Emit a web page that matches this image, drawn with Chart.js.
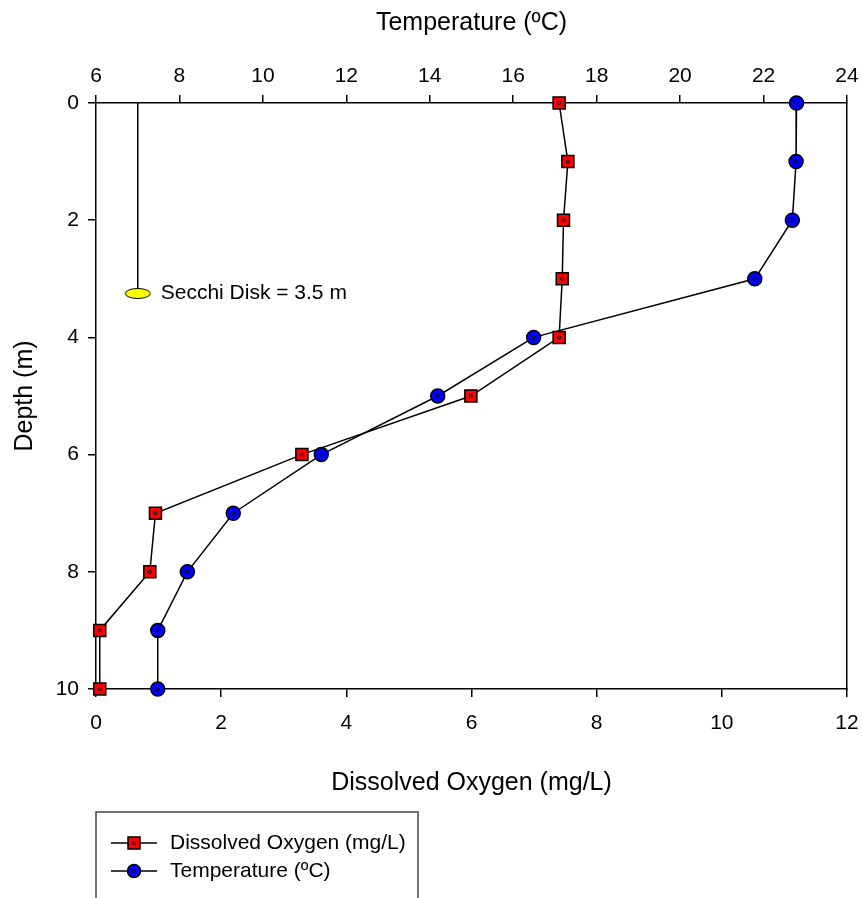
<!DOCTYPE html>
<html>
<head>
<meta charset="utf-8">
<script src="https://cdn.jsdelivr.net/npm/chart.js@4.4.1/dist/chart.umd.min.js"></script>
<style>
  html, body { margin: 0; padding: 0; background: #fff; }
  #wrap { width: 862px; height: 898px; position: relative; }
</style>
</head>
<body>
<div id="wrap"><canvas id="grafico"></canvas></div>
<script>
// datos del perfil
const depths = [0, 1, 2, 3, 4, 5, 6, 7, 8, 9, 10];
const oxygen = [7.40, 7.54, 7.47, 7.45, 7.40, 5.99, 3.29, 0.95, 0.86, 0.06, 0.06];
const temperature = [22.79, 22.78, 22.69, 21.79, 16.49, 14.19, 11.40, 9.29, 8.19, 7.48, 7.48];

// disco de Secchi (en la escala de temperatura)
const secchiTemp = [7, 7];
const secchiDepth = [0, 3.25];
const secchiLabel = 'Secchi Disk = 3.5 m';

// etiquetas de los ejes
const oxygenTicks = [0, 2, 4, 6, 8, 10, 12];
const tempTicks = [6, 8, 10, 12, 14, 16, 18, 20, 22, 24];
const depthTicks = [0, 2, 4, 6, 8, 10];

const FONT = "'Liberation Sans', Arial, sans-serif";

// elipse amarilla del disco
const disk = document.createElement('canvas');
disk.width = 28; disk.height = 13;
(function() {
  const c = disk.getContext('2d');
  c.fillStyle = '#ffff00';
  c.strokeStyle = '#000';
  c.lineWidth = 1;
  c.beginPath();
  c.ellipse(14, 6.5, 12.5, 5, 0, 0, Math.PI * 2);
  c.fill();
  c.stroke();
})();

const toPoints = (xs, ys) => xs.map((v, i) => ({ x: v, y: ys[i] }));
const fixTicks = arr => s => { s.ticks = arr.map(v => ({ value: v })); };

// punto negro en el centro de cada marcador
const centerDots = {
  id: 'centerDots',
  afterDatasetsDraw(chart) {
    const ctx = chart.ctx;
    ctx.save();
    ctx.strokeStyle = '#000';
    ctx.lineWidth = 1;
    [0, 1].forEach(i => {
      chart.getDatasetMeta(i).data.forEach(p => {
        ctx.beginPath();
        ctx.arc(p.x, p.y, 1.6, 0, Math.PI * 2);
        ctx.stroke();
      });
    });
    // texto del disco
    const pts = chart.getDatasetMeta(2).data;
    const last = pts[pts.length - 1];
    ctx.fillStyle = '#000';
    ctx.font = '21px ' + FONT;
    ctx.textBaseline = 'middle';
    ctx.fillText(secchiLabel, last.x + 23, last.y);
    ctx.restore();
  }
};

// leyenda con recuadro
const legendBox = {
  id: 'legendBox',
  afterDraw(chart) {
    const ctx = chart.ctx;
    ctx.save();
    ctx.strokeStyle = '#444';
    ctx.lineWidth = 1.5;
    ctx.beginPath();
    ctx.moveTo(96, 898); ctx.lineTo(96, 812); ctx.lineTo(418, 812); ctx.lineTo(418, 898);
    ctx.stroke();
    const rows = [843, 871];
    [0, 1].forEach((i, k) => {
      const ds = chart.data.datasets[i];
      const y = rows[k];
      ctx.strokeStyle = '#000';
      ctx.lineWidth = 1.5;
      ctx.beginPath(); ctx.moveTo(111, y); ctx.lineTo(157, y); ctx.stroke();
      ctx.fillStyle = ds.pointBackgroundColor;
      ctx.beginPath();
      if (ds.pointStyle === 'rect') ctx.rect(128, y - 6, 12, 12);
      else ctx.arc(134, y, 6.5, 0, Math.PI * 2);
      ctx.fill(); ctx.stroke();
      ctx.lineWidth = 1;
      ctx.beginPath(); ctx.arc(134, y, 1.6, 0, Math.PI * 2); ctx.stroke();
      ctx.fillStyle = '#000';
      ctx.font = '21px ' + FONT;
      ctx.textBaseline = 'middle';
      ctx.fillText(ds.label, 170, y);
    });
    ctx.restore();
  }
};

const axisCommon = {
  border: { display: true, color: '#000', width: 1.5 },
  grid: { drawOnChartArea: false, drawTicks: true, tickLength: 8, color: '#000', lineWidth: 1.5 },
};
const noSidePad = s => { s.paddingLeft = 0; s.paddingRight = 0; };

new Chart(document.getElementById('grafico'), {
  type: 'scatter',
  data: {
    datasets: [{
      label: 'Dissolved Oxygen (mg/L)',
      data: toPoints(oxygen, depths),
      xAxisID: 'x', yAxisID: 'y',
      showLine: true,
      borderColor: '#000', borderWidth: 1.5,
      pointStyle: 'rect', pointRadius: 8.5, pointHoverRadius: 8.5,
      pointBackgroundColor: '#ff0000', pointBorderColor: '#000', pointBorderWidth: 1.5,
      clip: false
    }, {
      label: 'Temperature (ºC)',
      data: toPoints(temperature, depths),
      xAxisID: 'x2', yAxisID: 'y',
      showLine: true,
      borderColor: '#000', borderWidth: 1.5,
      pointStyle: 'circle', pointRadius: 7, pointHoverRadius: 7,
      pointBackgroundColor: '#0000ff', pointBorderColor: '#000', pointBorderWidth: 1.5,
      clip: false
    }, {
      label: 'Secchi',
      data: toPoints(secchiTemp, secchiDepth),
      xAxisID: 'x2', yAxisID: 'y',
      showLine: true,
      borderColor: '#000', borderWidth: 1,
      pointStyle: ['circle', disk], pointRadius: [0, 5],
      clip: false
    }]
  },
  options: {
    responsive: true,
    maintainAspectRatio: false,
    animation: false,
    layout: { padding: 0 },
    plugins: { legend: { display: false }, tooltip: { enabled: false } },
    scales: {
      x: {
        ...axisCommon,
        position: 'bottom', min: 0, max: 12,
        afterBuildTicks: fixTicks(oxygenTicks),
        afterFit: s => { s.height = 209; noSidePad(s); },
        ticks: { color: '#000', padding: 14, font: { family: FONT, size: 21 } },
        title: { display: true, text: 'Dissolved Oxygen (mg/L)', color: '#000',
                 font: { family: FONT, size: 25 }, padding: { top: 0, bottom: 100 } }
      },
      x2: {
        ...axisCommon,
        position: 'top', min: 6, max: 24,
        afterBuildTicks: fixTicks(tempTicks),
        afterFit: s => { s.height = 103; noSidePad(s); },
        ticks: { color: '#000', padding: 6, font: { family: FONT, size: 21 } },
        title: { display: true, text: 'Temperature (ºC)', color: '#000',
                 font: { family: FONT, size: 25 }, padding: { top: 8, bottom: 0 } }
      },
      y: {
        ...axisCommon,
        position: 'left', min: 0, max: 10, reverse: true,
        afterBuildTicks: fixTicks(depthTicks),
        afterFit: s => { s.width = 96; },
        ticks: { color: '#000', padding: 9, font: { family: FONT, size: 21 } },
        title: { display: true, text: 'Depth (m)', color: '#000',
                 font: { family: FONT, size: 25 }, padding: { top: 10, bottom: 0 } }
      },
      y2: {
        position: 'right', min: 0, max: 10,
        border: { display: true, color: '#000', width: 1.5 },
        grid: { display: false },
        ticks: { display: false },
        afterFit: s => { s.width = 15; }
      }
    }
  },
  plugins: [centerDots, legendBox]
});
</script>
</body>
</html>
